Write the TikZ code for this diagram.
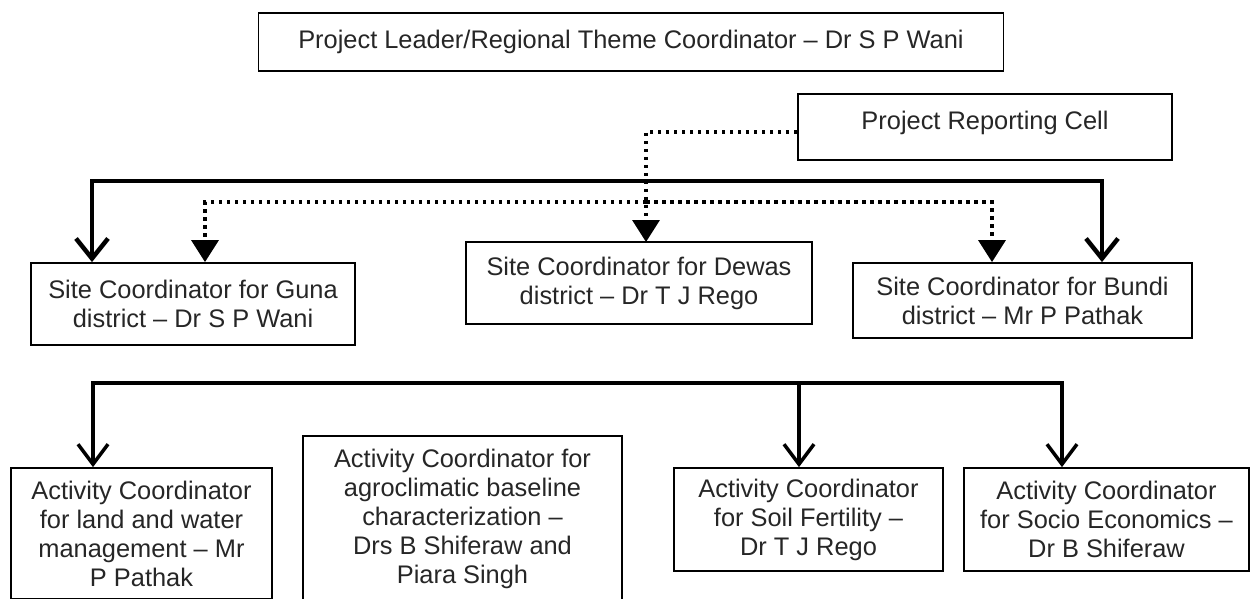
\documentclass[tikz,border=0pt]{standalone}
\usepackage{fontspec}
\setmainfont{Liberation Sans}
\usetikzlibrary{arrows.meta}

\begin{document}
\begin{tikzpicture}[x=1pt, y=-1pt,
		box/.style={draw, line width=1.8pt, align=center, inner sep=0pt, text=black!85, font=\fontsize{25.4}{29}\selectfont},
		boldarrow/.style={line width=4.5pt, {Straight Barb[length=20pt,width=32pt]}-{Straight Barb[length=20pt,width=32pt]}},
		linkarrow/.style={line width=3.5pt, -{Straight Barb[length=20pt,width=30pt]}},
		dotarrow/.style={line width=3.5pt, dash pattern=on 3.5pt off 4.5pt, -{Triangle[length=22pt,width=27pt]}}]
		\useasboundingbox (0,0) rectangle (1252,599);
		
		% Top boxes
		\node[box, minimum width=745pt, minimum height=58pt] (leader) at (631,42) {Project Leader/Regional Theme Coordinator – Dr S P Wani};
		\node[box, minimum width=374pt, text height=24pt, text depth=18pt, inner ysep=12pt] (cell) at (985,127) {Project Reporting Cell};
		
		% Site coordinators
		\node[box, minimum width=324pt, minimum height=82pt] (guna) at (193,304) {Site Coordinator for Guna\\district – Dr S P Wani};
		\node[box, minimum width=346pt, minimum height=82pt] (dewas) at (639,283) {Site Coordinator for Dewas\\district – Dr T J Rego};
		\node[box, minimum width=339pt, minimum height=75pt] (bundi) at (1022.5,300.5) {Site Coordinator for Bundi\\district – Mr P Pathak};
		
		% Activity coordinators
		\node[box, minimum width=261pt, minimum height=131pt] (land) at (141.5,533.5) {Activity Coordinator\\for land and water\\management – Mr\\P Pathak};
		\node[box, minimum width=319pt, minimum height=165pt] (agro) at (462.5,518.5) {Activity Coordinator for\\agroclimatic baseline\\characterization –\\Drs B Shiferaw and\\Piara Singh};
		\node[box, minimum width=269pt, minimum height=103pt] (soil) at (808.5,519.5) {Activity Coordinator\\for Soil Fertility –\\Dr T J Rego};
		\node[box, minimum width=285pt, minimum height=103pt] (socio) at (1106.5,519.5) {Activity Coordinator\\for Socio Economics –\\Dr B Shiferaw};
		
		% Solid links to the sites
		\coordinate (siteL) at (92,181);
		\coordinate (siteR) at (1102,181);
		\draw[boldarrow] ([xshift=-101pt]guna.north) -- (siteL) -- (siteR) -- ([xshift=79.5pt]bundi.north);
		
		% Dotted links from the reporting cell
		\coordinate (dewasIn) at (646,242);
		\coordinate (dotJ) at (646,202);
		\draw[dotarrow] ([yshift=-5pt]cell.west) -| (dewasIn);
		\draw[dotarrow] (dotJ) -| ([xshift=12pt]guna.north);
		\draw[dotarrow] (dotJ) -| ([xshift=-30.5pt]bundi.north);
		
		% Links to the activities
		\coordinate (actL) at (93,383);
		\coordinate (actM) at (799,383);
		\coordinate (actR) at (1062,383);
		\draw[linkarrow, {Straight Barb[length=20pt,width=30pt]}-{Straight Barb[length=20pt,width=30pt]}] ([xshift=-48.5pt]land.north) -- (actL) -- (actR) -- ([xshift=-44.5pt]socio.north);
		\draw[linkarrow] (actM) -- ([xshift=-9.5pt]soil.north);
		
	\end{tikzpicture}
\end{document}
